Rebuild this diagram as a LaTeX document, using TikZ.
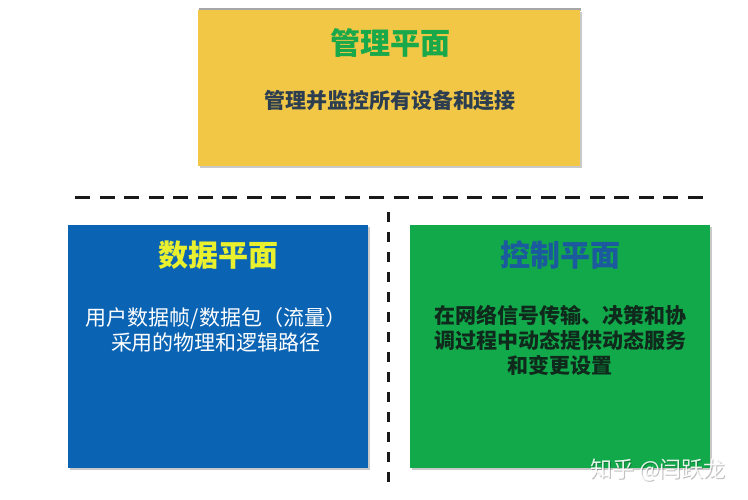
\documentclass[tikz,border=0pt]{standalone}
\usepackage{fontspec}
\setmainfont{Noto Sans CJK SC}
\usetikzlibrary{shadows}
\definecolor{ybox}{HTML}{F3C746}
\definecolor{bbox}{HTML}{0B63B3}
\definecolor{gbox}{HTML}{12A94A}
\definecolor{gtitle}{HTML}{19A84A}
\definecolor{ytitle}{HTML}{E9F02E}
\definecolor{btitle}{HTML}{1B5A9E}
\definecolor{slate}{HTML}{2C3E50}
\definecolor{dgreen}{HTML}{0F2A1C}
\begin{document}
\begin{tikzpicture}[x=1pt,y=-1pt,
  panel/.style={rectangle, draw=none, inner sep=0pt, anchor=north west,
    drop shadow={shadow xshift=1.5pt, shadow yshift=-1.5pt, opacity=0.35, fill=black!60}},
  ptitle/.style={inner sep=0pt, font=\fontsize{30}{36}\selectfont\bfseries},
  ptext/.style={inner sep=0pt, align=center, font=\fontsize{21}{25}\selectfont\bfseries},
  divider/.style={line width=3pt, draw=black!90},
  wmark/.style={inner sep=0pt, font=\fontsize{22}{26}\selectfont}
]
\useasboundingbox (0,0) rectangle (748,500);
\fill[white] (0,0) rectangle (748,500);

% top edge shade of the yellow panel
\fill[black!35] (199,8.5) rectangle (581,11);

% panels
\node[panel, fill=ybox, minimum width=382pt, minimum height=156pt] (mgmt) at (198,10) {};
\node[panel, fill=bbox, minimum width=300pt, minimum height=243pt] (data) at (68,225) {};
\node[panel, fill=gbox, minimum width=300pt, minimum height=243pt] (ctrl) at (410,225) {};

% titles
\node[ptitle, text=gtitle] (mgmtT) at (390,43) {管理平面};
\node[ptitle, text=ytitle] (dataT) at (218,255) {数据平面};
\node[ptitle, text=btitle] (ctrlT) at (560,255) {控制平面};

% texts
\node[ptext, text=slate] (mgmtX) at (390,101) {管理并监控所有设备和连接};
\node[ptext, text=white, anchor=north, font=\fontsize{21}{25}\selectfont\mdseries] (dataX) at (216,307) {用户数据帧/数据包（流量）\\采用的物理和逻辑路径};
\node[ptext, text=dgreen, anchor=north] (ctrlX) at (560,305) {在网络信号传输、决策和协\\调过程中动态提供动态服务\\和变更设置};

% dividers
\coordinate (hl) at (75,198);
\coordinate (hr) at (703,198);
\coordinate (vt) at (388,212);
\coordinate (vb) at (388,490);
\draw[divider, dash pattern=on 15pt off 9.5pt] (hl) -- (hr);
\draw[divider, dash pattern=on 10pt off 10pt] (vt) -- (vb);

% watermark
\node[wmark, text=black, opacity=0.25] (wmS) at (659,471) {知乎 @闫跃龙};
\node[wmark, text=white, opacity=0.9] (wm) at (658,470) {知乎 @闫跃龙};
\end{tikzpicture}
\end{document}
